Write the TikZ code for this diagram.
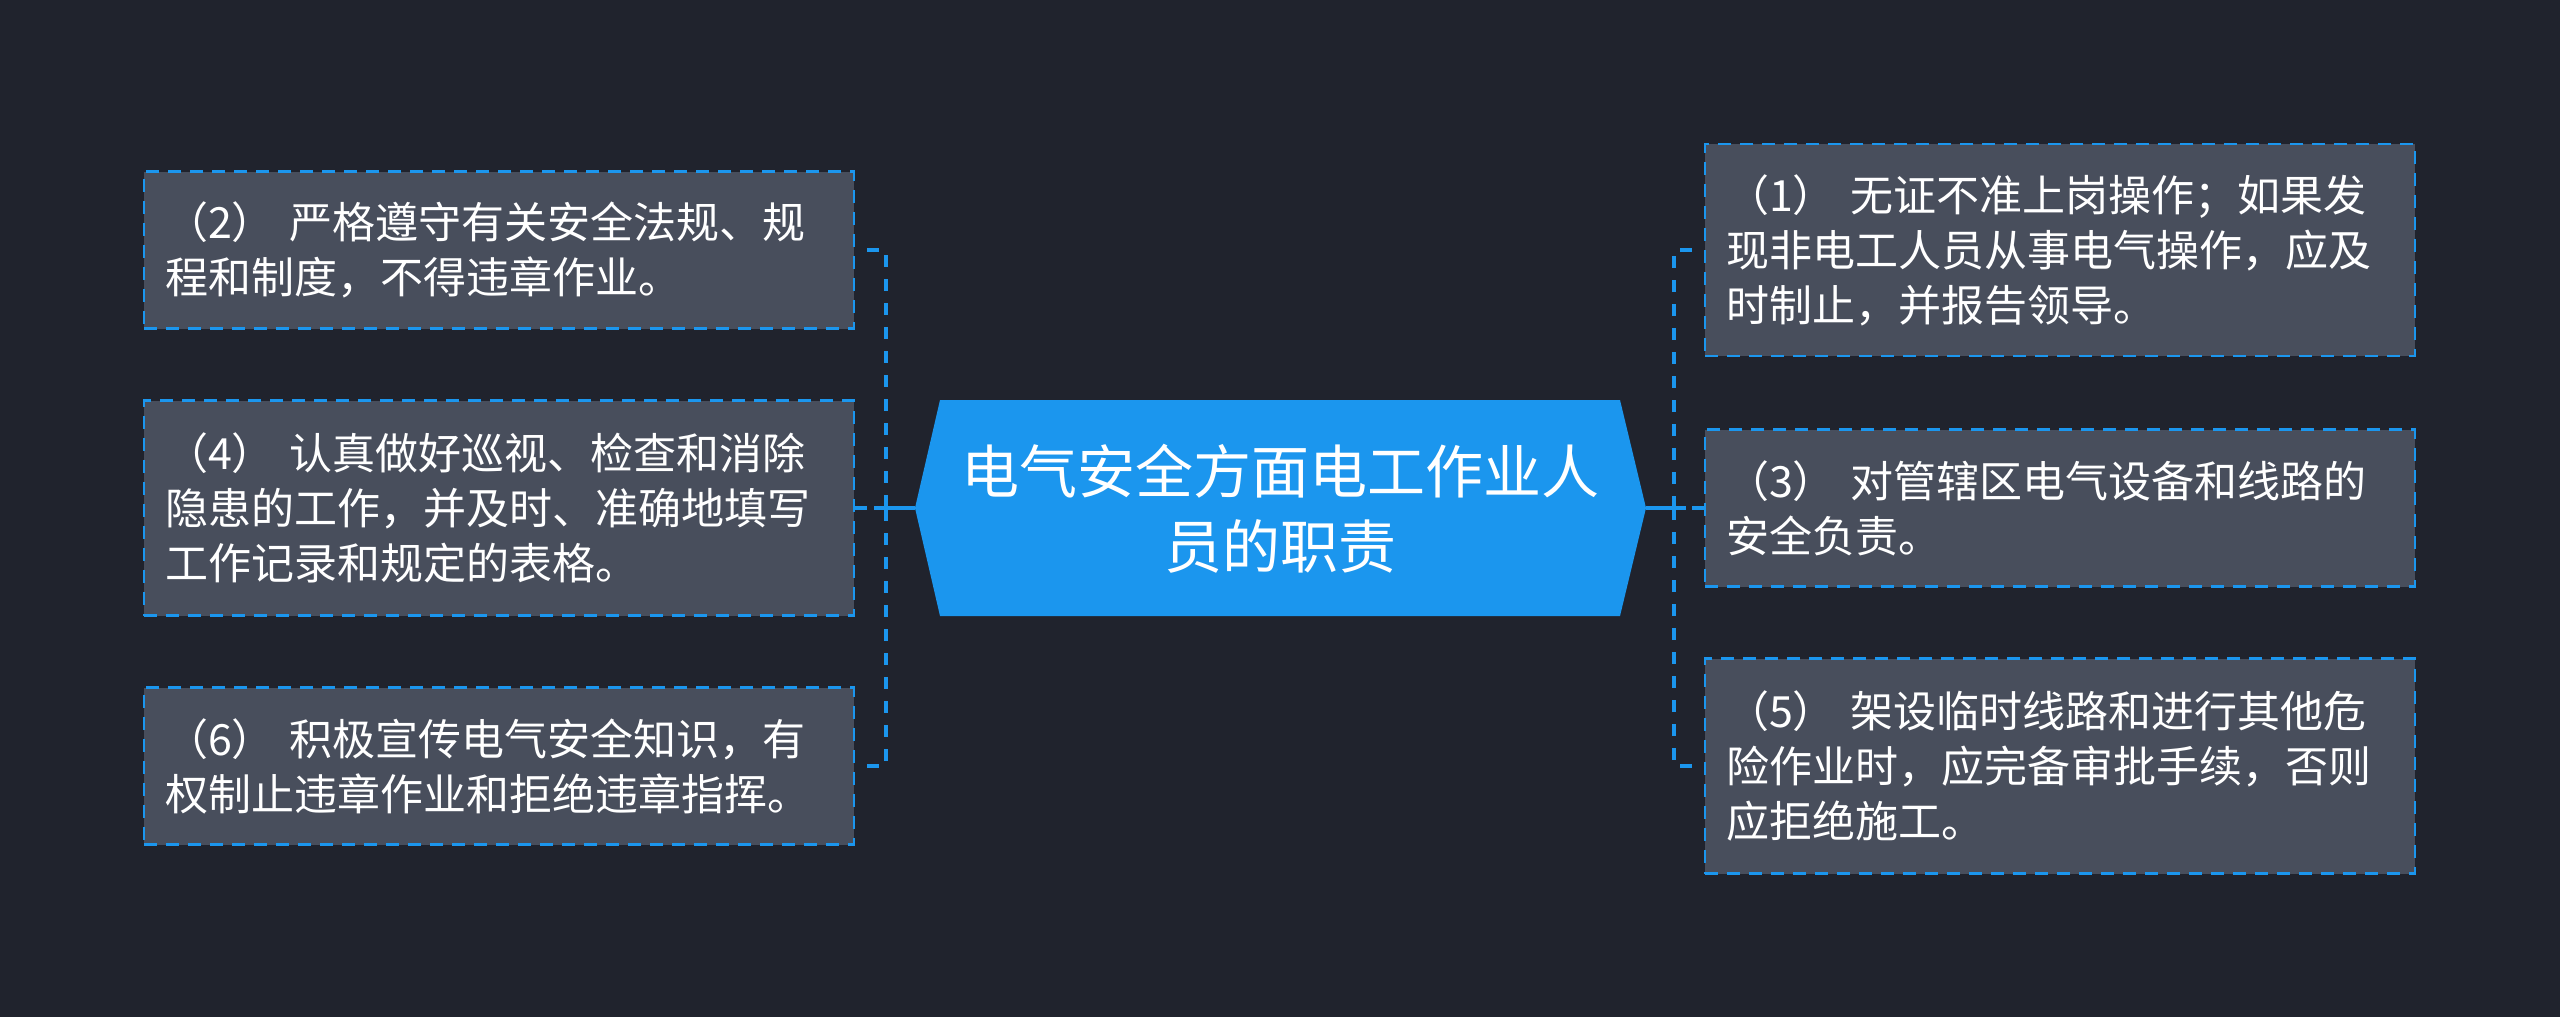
\documentclass[tikz,border=0pt]{standalone}
\usepackage{fontspec}
\newfontfamily\cjk{Noto Sans CJK SC}
\definecolor{bgc}{HTML}{20232D}
\definecolor{boxfill}{HTML}{484E5C}
\definecolor{bluec}{HTML}{1B96EE}
\tikzset{
  leaf/.style={draw=bluec, fill=boxfill, line width=2.8pt, dash pattern=on 13pt off 9pt,
    text=white, inner xsep=21pt, inner ysep=0pt, text width=668pt, align=left,
    minimum height=#1, font=\cjk\fontsize{43}{55}\selectfont},
  leaf/.default=157pt,
  conn/.style={draw=bluec, line width=4.5pt, dash pattern=on 12pt off 12pt, dash phase=12pt},
  midconn/.style={conn, dash phase=0pt},
  solidconn/.style={draw=bluec, line width=4.5pt}
}
\begin{document}
\begin{tikzpicture}[x=1pt,y=-1pt]
\useasboundingbox (0,0) rectangle (2560,1017);
\fill[bgc] (0,0) rectangle (2560,1017);
% central hexagon
\coordinate (cL) at (915,508);
\coordinate (cR) at (1646,508);
\fill[bluec] (cL) -- (940,400) -- (1620,400) -- (cR) -- (1620,616) -- (940,616) -- cycle;
\node[text=white, align=center, font=\cjk\fontsize{58}{75}\selectfont] (c) at (1280,509)
  {电气安全方面电工作业人\\员的职责};
% hubs
\coordinate (hL) at (886,508);
\coordinate (hR) at (1674,508);
\coordinate (sL) at (874,508);
\coordinate (sR) at (1686,508);
% left boxes
\node[leaf] (l1) at (499,250) {（2） 严格遵守有关安全法规、规\\程和制度，不得违章作业。};
\node[leaf=215pt] (l2) at (499,508) {（4） 认真做好巡视、检查和消除\\隐患的工作，并及时、准确地填写\\工作记录和规定的表格。};
\node[leaf] (l3) at (499,766) {（6） 积极宣传电气安全知识，有\\权制止违章作业和拒绝违章指挥。};
% right boxes
\node[leaf=212pt] (r1) at (2060,250) {（1） 无证不准上岗操作；如果发\\现非电工人员从事电气操作，应及\\时制止，并报告领导。};
\node[leaf] (r2) at (2060,508) {（3） 对管辖区电气设备和线路的\\安全负责。};
\node[leaf=215pt] (r3) at (2060,766) {（5） 架设临时线路和进行其他危\\险作业时，应完备审批手续，否则\\应拒绝施工。};
% connectors left
\draw[conn] (l1.east) -| (hL);
\draw[conn] (l3.east) -| (hL);
\draw[midconn] (l2.east) -- (hL);
\draw[solidconn] (cL) -- (sL);
% connectors right
\draw[conn] (r1.west) -| (hR);
\draw[conn] (r3.west) -| (hR);
\draw[midconn] (r2.west) -- (hR);
\draw[solidconn] (cR) -- (sR);
\end{tikzpicture}
\end{document}
